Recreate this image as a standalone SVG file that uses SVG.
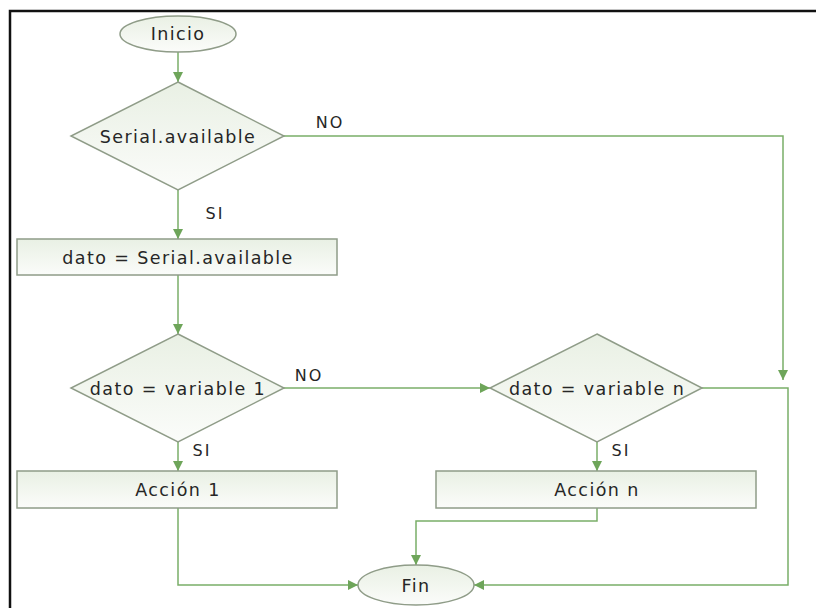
<svg xmlns="http://www.w3.org/2000/svg" width="816" height="608" viewBox="0 0 816 608">
  <defs>
    <linearGradient id="fillGrad" x1="0" y1="0" x2="0" y2="1">
      <stop offset="0" stop-color="#e9f0e4"/>
      <stop offset="1" stop-color="#fbfcfa"/>
    </linearGradient>
    <marker id="arrow" viewBox="0 0 10 10" refX="10" refY="5" markerWidth="10" markerHeight="10" markerUnits="userSpaceOnUse" orient="auto">
      <path d="M0,0 L10,5 L0,10 Z" fill="#6ea55a"/>
    </marker>
    <style>
      .shape { fill: url(#fillGrad); stroke: #8f9c88; stroke-width: 1.5; }
      .conn { fill: none; stroke: #7aae68; stroke-width: 1.5; }
      .label { font-family: "DejaVu Sans", "Open Sans", sans-serif; font-size: 17.5px; fill: #262626; text-anchor: middle; dominant-baseline: central; letter-spacing: 1.4px; }
      .edge { font-family: "DejaVu Sans", "Open Sans", sans-serif; font-size: 16px; fill: #262626; text-anchor: middle; dominant-baseline: central; letter-spacing: 2px; }
    </style>
  </defs>

  <rect width="816" height="608" fill="#ffffff"/>
  <!-- frame -->
  <path d="M10,608 V11 H816" fill="none" stroke="#111111" stroke-width="2.5"/>

  <!-- connectors -->
  <g id="connectors">
    <path class="conn" d="M178,52 V82" marker-end="url(#arrow)"/>
    <path class="conn" d="M178,190 V239" marker-end="url(#arrow)"/>
    <path class="conn" d="M178,275 V334" marker-end="url(#arrow)"/>
    <path class="conn" d="M282,136 H783 V380" marker-end="url(#arrow)"/>
    <path class="conn" d="M282,388 H490" marker-end="url(#arrow)"/>
    <path class="conn" d="M178,442 V471" marker-end="url(#arrow)"/>
    <path class="conn" d="M597,442 V471" marker-end="url(#arrow)"/>
    <path class="conn" d="M702,388 H788 V585 H474" marker-end="url(#arrow)"/>
    <path class="conn" d="M178,508 V585 H358" marker-end="url(#arrow)"/>
    <path class="conn" d="M597,508 V521 H416 V565" marker-end="url(#arrow)"/>
    <text class="edge" x="330" y="122">NO</text>
    <text class="edge" x="215" y="213">SI</text>
    <text class="edge" x="309" y="375">NO</text>
    <text class="edge" x="202" y="450">SI</text>
    <text class="edge" x="621" y="450">SI</text>
  </g>

  <g id="inicio">
    <ellipse class="shape" cx="178" cy="34" rx="58" ry="18"/>
    <text class="label" x="178" y="34">Inicio</text>
  </g>

  <g id="serial-available">
    <polygon class="shape" points="178,82 284,136 178,190 71,136"/>
    <text class="label" x="178" y="137">Serial.available</text>
  </g>

  <g id="dato-serial">
    <rect class="shape" x="17" y="239" width="320" height="36"/>
    <text class="label" x="178" y="258">dato = Serial.available</text>
  </g>

  <g id="dato-variable-1">
    <polygon class="shape" points="178,334 284,388 178,442 71,388"/>
    <text class="label" x="178" y="389">dato = variable 1</text>
  </g>

  <g id="dato-variable-n">
    <polygon class="shape" points="597,334 702,388 597,442 490,388"/>
    <text class="label" x="597" y="389">dato = variable n</text>
  </g>

  <g id="accion-1">
    <rect class="shape" x="17" y="471" width="320" height="37"/>
    <text class="label" x="178" y="490">Acción 1</text>
  </g>

  <g id="accion-n">
    <rect class="shape" x="436" y="471" width="320" height="37"/>
    <text class="label" x="597" y="490">Acción n</text>
  </g>

  <g id="fin">
    <ellipse class="shape" cx="416" cy="585" rx="58" ry="20"/>
    <text class="label" x="416" y="586">Fin</text>
  </g>
</svg>
